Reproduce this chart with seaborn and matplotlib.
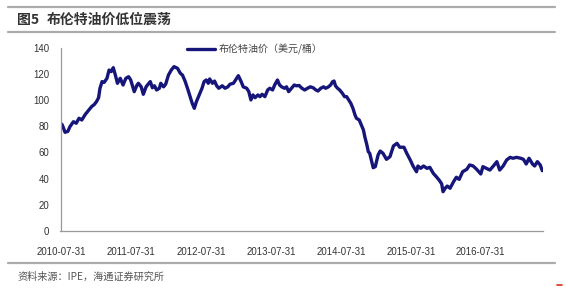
import matplotlib
matplotlib.use("Agg")
import matplotlib.pyplot as plt
from matplotlib.lines import Line2D
import seaborn as sns
import pandas as pd

# ---- data ----
years = [
    2010.57, 2010.59, 2010.63, 2010.67, 2010.70, 2010.75, 2010.79, 2010.83, 2010.87, 2010.92,
    2010.96, 2011.01, 2011.05, 2011.08, 2011.11, 2011.13, 2011.16, 2011.19, 2011.23, 2011.26,
    2011.29, 2011.32, 2011.35, 2011.38, 2011.42, 2011.46, 2011.50, 2011.54, 2011.57, 2011.62,
    2011.66, 2011.68,
    2011.72, 2011.75, 2011.79, 2011.81, 2011.85, 2011.88, 2011.91, 2011.94, 2011.98, 2012.00,
    2012.04, 2012.07, 2012.11, 2012.15, 2012.19, 2012.24, 2012.28, 2012.31, 2012.35, 2012.39,
    2012.42, 2012.45, 2012.48, 2012.51, 2012.55, 2012.59, 2012.62, 2012.65, 2012.68, 2012.70,
    2012.74, 2012.77, 2012.80, 2012.83,
    2012.88, 2012.92, 2012.96, 2012.99, 2013.04, 2013.07, 2013.11, 2013.15, 2013.18, 2013.23,
    2013.26, 2013.29, 2013.32, 2013.35, 2013.39, 2013.42, 2013.45, 2013.49, 2013.53, 2013.56,
    2013.60, 2013.63, 2013.67, 2013.70, 2013.73, 2013.77, 2013.80, 2013.83, 2013.87, 2013.91,
    2013.94, 2013.98,
    2014.02, 2014.06, 2014.10, 2014.14, 2014.18, 2014.22, 2014.25, 2014.29, 2014.33, 2014.36,
    2014.40, 2014.43, 2014.46, 2014.48, 2014.50, 2014.53, 2014.56, 2014.60, 2014.63, 2014.66,
    2014.69, 2014.72, 2014.75, 2014.78, 2014.80, 2014.84, 2014.87, 2014.90, 2014.92, 2014.95,
    2014.97, 2014.99, 2015.02, 2015.04, 2015.07, 2015.09, 2015.11, 2015.14,
    2015.18, 2015.23, 2015.28, 2015.33, 2015.38, 2015.42, 2015.48, 2015.52, 2015.57, 2015.61,
    2015.66, 2015.68, 2015.72, 2015.76, 2015.81, 2015.85, 2015.90, 2015.95, 2015.99, 2016.02,
    2016.04, 2016.07, 2016.10, 2016.14, 2016.19, 2016.23, 2016.27, 2016.32, 2016.38, 2016.42,
    2016.47, 2016.52, 2016.58, 2016.61, 2016.66, 2016.71, 2016.76, 2016.81, 2016.85, 2016.90,
    2016.95, 2017.00, 2017.04, 2017.09, 2017.15, 2017.19, 2017.23, 2017.27, 2017.32, 2017.35,
    2017.39, 2017.43, 2017.46,
]
brent = [
    82.0, 81.0, 75.3, 76.0, 79.6, 83.4, 82.2, 86.0, 84.7, 89.0,
    91.6, 94.9, 96.6, 98.7, 101.7, 108.9, 114.0, 113.4, 116.5, 122.8,
    121.6, 124.6, 119.0, 112.7, 116.5, 111.4, 116.5, 117.7, 115.2, 106.3,
    111.4, 112.7,
    110.0, 104.3, 110.0, 111.4, 114.0, 109.3, 110.8, 107.6, 108.9, 112.7,
    110.0, 112.0, 119.0, 122.8, 125.4, 124.1, 120.3, 119.0, 114.0, 107.6,
    102.5, 97.4, 93.6, 98.7, 103.8, 108.9, 114.0, 115.2, 112.7, 116.0,
    112.7, 114.4, 110.8, 108.9,
    110.8, 108.9, 110.0, 112.0, 112.7, 115.2, 118.5, 114.0, 110.0, 108.9,
    106.3, 100.0, 103.8, 101.7, 103.8, 102.5, 104.3, 102.5, 107.6, 108.9,
    107.6, 111.4, 115.2, 111.4, 110.0, 108.9, 110.0, 106.3, 108.9, 111.4,
    110.8, 111.0,
    108.9, 107.6, 108.9, 110.0, 109.3, 107.6, 106.8, 108.9, 110.0, 108.9,
    110.0, 111.4, 114.0, 114.4, 110.8, 108.9, 107.6, 105.0, 102.5, 102.5,
    100.0, 97.4, 93.6, 88.5, 86.0, 84.7, 80.9, 77.1, 71.9, 65.6,
    60.5, 59.3, 52.9, 48.3, 49.1, 53.4, 58.0, 61.0,
    59.3, 54.7, 56.7, 64.9, 66.9, 63.9, 63.9, 59.3, 54.2, 49.6,
    45.2, 49.6, 47.8, 49.6, 47.8, 48.6, 44.0, 41.0, 38.4, 35.9,
    30.0, 32.6, 34.3, 32.6, 37.6, 41.0, 39.4, 45.2, 47.1, 50.4,
    49.6, 47.1, 43.5, 49.1, 47.8, 46.5, 49.6, 52.9, 46.5, 49.6,
    54.2, 56.2, 55.5, 56.2, 55.5, 54.7, 51.1, 55.5, 51.1, 49.6,
    52.9, 50.4, 46.0,
]
tick_years = [2010.58, 2011.58, 2012.58, 2013.58, 2014.58, 2015.58, 2016.58]
tick_labels = ["2010-07-31", "2011-07-31", "2012-07-31", "2013-07-31",
               "2014-07-31", "2015-07-31", "2016-07-31"]
y_ticks = [0, 20, 40, 60, 80, 100, 120, 140]
series_name = "布伦特油价（美元/桶）"
title_num = "图5"
title_text = "布伦特油价低位震荡"
source_text = "资料来源：IPE，海通证券研究所"

df = pd.DataFrame({"year": years, "price": brent})

sns.set_theme(style="white")
plt.rcParams["font.family"] = ["Liberation Sans", "Noto Sans CJK SC", "DejaVu Sans"]
CJK = ["Noto Sans CJK SC", "DejaVu Sans"]

W, H = 566, 294
fig = plt.figure(figsize=(W / 100, H / 100), dpi=100)
fig.patch.set_facecolor("white")

ax_left, ax_right = 60.5, 543.0
ax_bottom, ax_top = 231.0, 47.5
ax = fig.add_axes([ax_left / W, 1 - ax_bottom / H,
                   (ax_right - ax_left) / W, (ax_bottom - ax_top) / H])

navy = "#15157a"
sns.lineplot(data=df, x="year", y="price", ax=ax, color=navy, linewidth=2.4,
             legend=False)

ax.set_xlim(2010.565, 2017.47)
ax.set_ylim(0, 140)
ax.set_xticks(tick_years)
ax.set_xticklabels(tick_labels)
ax.set_yticks(y_ticks)
ax.set_xlabel("")
ax.set_ylabel("")
for s in ["top", "right"]:
    ax.spines[s].set_visible(False)
for s in ["left", "bottom"]:
    ax.spines[s].set_color("#9a9a9a")
    ax.spines[s].set_linewidth(0.9)
ax.tick_params(axis="both", which="major", direction="out", length=3, width=0.8,
               color="#9a9a9a", labelsize=6.9, labelcolor="#333333")
ax.tick_params(axis="x", pad=8.5)
ax.tick_params(axis="y", pad=5)
ax.grid(False)

# legend
handle = Line2D([], [], color=navy, linewidth=2.4)
fig.legend([handle], [series_name], loc="center left",
           bbox_to_anchor=(187 / W, 1 - 49 / H), frameon=False,
           prop={"family": CJK, "size": 7.2}, handlelength=2.8, handletextpad=0.35,
           borderpad=0, borderaxespad=0, labelcolor="#444444")

# title and frame lines
fig.text(17 / W, 1 - 20 / H, title_num, family=CJK, fontsize=10, fontweight="bold",
         color="#333333", va="center", ha="left")
fig.text(47 / W, 1 - 20 / H, title_text, family=CJK, fontsize=10, fontweight="bold",
         color="#333333", va="center", ha="left")
for yy in (6.7, 31.7, 263.0):
    fig.add_artist(Line2D([8 / W, 555 / W], [1 - yy / H, 1 - yy / H],
                          color="#ababab", linewidth=1.6))
fig.text(17 / W, 1 - 277 / H, source_text, family=CJK, fontsize=7.3,
         color="#555555", va="center", ha="left")
fig.add_artist(Line2D([557 / W, 562 / W], [1 - 285 / H, 1 - 285 / H],
                      color="#d9301c", linewidth=1.2))

fig.savefig("out.png", dpi=100)
